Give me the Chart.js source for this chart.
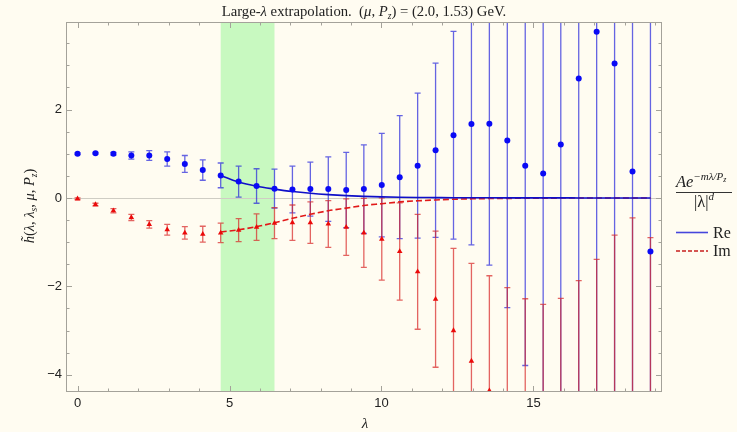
<!DOCTYPE html>
<html>
<head>
<meta charset="utf-8">
<script src="https://cdn.jsdelivr.net/npm/chart.js@4"></script>
<style>
  html, body { margin: 0; padding: 0; background: #fffcf1; }
</style>
</head>
<body>
<canvas id="chart" width="737" height="432"></canvas>
<script>
// lambda grid (z * Pz)
const lambda = [0, 0.59, 1.18, 1.77, 2.36, 2.95, 3.53, 4.12, 4.71, 5.30, 5.89, 6.48, 7.07, 7.66, 8.25, 8.84,
  9.42, 10.01, 10.60, 11.19, 11.78, 12.37, 12.96, 13.55, 14.14, 14.73, 15.32, 15.90, 16.49, 17.08, 17.67, 18.26, 18.85]

// real part + errors
const reVal = [1.0, 1.01, 1.0, 0.96, 0.96, 0.88, 0.77, 0.63, 0.51, 0.37, 0.27, 0.21, 0.19, 0.20, 0.20, 0.18,
  0.20, 0.29, 0.47, 0.73, 1.08, 1.42, 1.67, 1.68, 1.30, 0.73, 0.55, 1.21, 2.70, 3.76, 3.04, 0.60, -1.21]
const reErr = [0.02, 0.02, 0.03, 0.08, 0.11, 0.16, 0.19, 0.23, 0.28, 0.35, 0.39, 0.44, 0.53, 0.61, 0.73, 0.85,
  1.0, 1.17, 1.39, 1.64, 1.97, 2.35, 2.73, 3.2, 3.78, 4.52, 5.3, 6.2, 7.3, 8.6, 10, 12, 14]

// imaginary part + errors
const imVal = [-0.02, -0.15, -0.29, -0.44, -0.60, -0.72, -0.79, -0.82, -0.79, -0.73, -0.66, -0.57, -0.56, -0.56, -0.59, -0.66,
  -0.79, -0.93, -1.21, -1.67, -2.29, -3.0, -3.69, -4.36, -5.1, -5.9, -6.6, -7.3, -7.9, -8.4, -8.8, -9.45, -10.9]
const imErr = [0.02, 0.03, 0.05, 0.07, 0.085, 0.12, 0.14, 0.18, 0.22, 0.26, 0.30, 0.35, 0.40, 0.47, 0.53, 0.64,
  0.78, 0.93, 1.1, 1.3, 1.54, 1.86, 2.21, 2.6, 3.07, 3.62, 4.19, 5.03, 6.03, 7.01, 7.96, 9.0, 10.0]

// fit curves A e^{-m lambda/Pz} / |lambda|^d
const fitLambda = [4.71, 5.30, 5.89, 6.48, 7.07, 7.66, 8.25, 8.84, 9.42, 10.01, 10.60, 11.19, 11.78, 12.37,
  12.96, 13.55, 14.14, 14.73, 15.32, 15.90, 16.49, 17.08, 17.67, 18.26, 18.85]
const fitRe = [0.51, 0.36, 0.265, 0.20, 0.145, 0.105, 0.075, 0.052, 0.036, 0.024, 0.016, 0.011, 0.008, 0.005,
  0.004, 0.003, 0.002, 0.001, 0.001, 0.001, 0, 0, 0, 0, 0]
const fitIm = [-0.77, -0.72, -0.65, -0.56, -0.46, -0.37, -0.29, -0.23, -0.17, -0.13, -0.09, -0.065, -0.045, -0.03,
  -0.02, -0.014, -0.01, -0.007, -0.005, -0.003, -0.002, -0.001, -0.001, 0, 0]

// fit window
const bandStart = 4.71
const bandEnd = 6.48

const xTicks = [0, 5, 10, 15]
const yTicks = [-4, -2, 0, 2]

const BG = "#fffcf1"
const SERIF = "'Liberation Serif', 'DejaVu Serif', serif"
const SANS = "'Liberation Sans', Arial, sans-serif"

function pts(xs, ys) {
  return xs.map((x, i) => ({ x: x, y: ys[i] }))
}

// draws a list of text pieces in a row, returns width
function richText(ctx, parts, x, y, align) {
  let total = 0
  parts.forEach((p) => {
    ctx.font = (p.style || "") + " " + p.size + "px " + SERIF
    total += ctx.measureText(p.t).width
  })
  let cx = align === "center" ? x - total / 2 : x
  ctx.textBaseline = "alphabetic"
  ctx.textAlign = "left"
  parts.forEach((p) => {
    ctx.font = (p.style || "") + " " + p.size + "px " + SERIF
    ctx.fillText(p.t, cx, y + (p.dy || 0))
    cx += ctx.measureText(p.t).width
  })
  return total
}

const decorPlugin = {
  id: "decor",
  beforeDraw(chart) {
    const ctx = chart.ctx
    ctx.save()
    ctx.fillStyle = BG
    ctx.fillRect(0, 0, chart.width, chart.height)
    ctx.restore()
  },
  beforeDatasetsDraw(chart) {
    const { ctx, chartArea: a, scales } = chart
    const x = scales.x, y = scales.y
    ctx.save()
    ctx.beginPath()
    ctx.rect(a.left, a.top, a.right - a.left, a.bottom - a.top)
    ctx.clip()

    // fit window band
    ctx.fillStyle = "rgb(200, 249, 192)"
    const bx0 = x.getPixelForValue(bandStart), bx1 = x.getPixelForValue(bandEnd)
    ctx.fillRect(bx0, a.top, bx1 - bx0, a.bottom - a.top)

    // zero line
    ctx.strokeStyle = "#cfcdc4"
    ctx.lineWidth = 1
    ctx.beginPath()
    ctx.moveTo(a.left, Math.round(y.getPixelForValue(0)) + 0.5)
    ctx.lineTo(a.right, Math.round(y.getPixelForValue(0)) + 0.5)
    ctx.stroke()

    // error bars
    const drawErr = (vals, errs, color) => {
      ctx.strokeStyle = color
      ctx.lineWidth = 1.3
      vals.forEach((v, i) => {
        const px = x.getPixelForValue(lambda[i])
        const hi = y.getPixelForValue(v + errs[i])
        const lo = y.getPixelForValue(v - errs[i])
        ctx.beginPath()
        ctx.moveTo(px, hi)
        ctx.lineTo(px, lo)
        ctx.moveTo(px - 3, hi)
        ctx.lineTo(px + 3, hi)
        ctx.moveTo(px - 3, lo)
        ctx.lineTo(px + 3, lo)
        ctx.stroke()
      })
    }
    drawErr(reVal, reErr, "rgba(35, 35, 220, 0.7)")
    drawErr(imVal, imErr, "rgba(215, 35, 35, 0.7)")
    ctx.restore()
  },
  afterDraw(chart) {
    const { ctx, chartArea: a, scales } = chart
    const x = scales.x, y = scales.y
    ctx.save()

    // frame
    ctx.strokeStyle = "#a4a29a"
    ctx.lineWidth = 1
    ctx.strokeRect(a.left + 0.5, a.top + 0.5, a.right - a.left - 1, a.bottom - a.top - 1)

    // inward ticks on all four sides
    ctx.beginPath()
    for (let v = 0; v <= 19; v += 1) {
      const px = Math.round(x.getPixelForValue(v)) + 0.5
      const len = v % 5 === 0 ? 6 : 3.5
      ctx.moveTo(px, a.bottom); ctx.lineTo(px, a.bottom - len)
      ctx.moveTo(px, a.top); ctx.lineTo(px, a.top + len)
    }
    for (let v = -4; v <= 3.5; v += 0.5) {
      const py = Math.round(y.getPixelForValue(v)) + 0.5
      const len = v % 2 === 0 ? 6 : 3.5
      ctx.moveTo(a.left, py); ctx.lineTo(a.left + len, py)
      ctx.moveTo(a.right, py); ctx.lineTo(a.right - len, py)
    }
    ctx.stroke()

    ctx.fillStyle = "#222"
    // title
    richText(ctx, [
      { t: "Large-", size: 14.7 },
      { t: "λ", size: 14.7, style: "italic" },
      { t: " extrapolation.  (", size: 14.7 },
      { t: "μ", size: 14.7, style: "italic" },
      { t: ", ", size: 14.7 },
      { t: "P", size: 14.7, style: "italic" },
      { t: "z", size: 9.5, style: "italic", dy: 3 },
      { t: ") = (2.0, 1.53) GeV.", size: 14.7 },
    ], (a.left + a.right) / 2, 16, "center")

    // x axis title
    richText(ctx, [{ t: "λ", size: 15, style: "italic" }], (a.left + a.right) / 2 + 1, 428, "center")

    // y axis title
    ctx.save()
    ctx.translate(34, 206)
    ctx.rotate(-Math.PI / 2)
    richText(ctx, [
      { t: "h\u0303", size: 14.5, style: "italic" },
      { t: "(", size: 14.5 },
      { t: "λ", size: 14.5, style: "italic" },
      { t: ", ", size: 14.5 },
      { t: "λ", size: 14.5, style: "italic" },
      { t: "s", size: 9.5, style: "italic", dy: 3 },
      { t: ", ", size: 14.5 },
      { t: "μ", size: 14.5, style: "italic" },
      { t: ", ", size: 14.5 },
      { t: "P", size: 14.5, style: "italic" },
      { t: "z", size: 9.5, style: "italic", dy: 3 },
      { t: ")", size: 14.5 },
    ], 0, 0, "center")
    ctx.restore()

    // legend
    const lx = 676
    richText(ctx, [
      { t: "Ae", size: 16.5, style: "italic" },
      { t: "−mλ/P", size: 11, style: "italic", dy: -7 },
      { t: "z", size: 8, style: "italic", dy: -5 },
    ], lx, 187, "left")
    ctx.strokeStyle = "#333"
    ctx.lineWidth = 1
    ctx.beginPath()
    ctx.moveTo(lx, 192.5)
    ctx.lineTo(732, 192.5)
    ctx.stroke()
    richText(ctx, [
      { t: "|λ|", size: 16.5, style: "" },
      { t: "d", size: 11, style: "italic", dy: -7 },
    ], 704, 207, "center")

    ctx.lineWidth = 1.6
    ctx.strokeStyle = "rgb(70, 70, 220)"
    ctx.beginPath()
    ctx.moveTo(lx, 232.5); ctx.lineTo(708, 232.5)
    ctx.stroke()
    ctx.strokeStyle = "rgb(200, 30, 30)"
    ctx.setLineDash([4, 2])
    ctx.beginPath()
    ctx.moveTo(lx, 251); ctx.lineTo(708, 251)
    ctx.stroke()
    ctx.setLineDash([])
    richText(ctx, [{ t: "Re", size: 16 }], 713, 237.5, "left")
    richText(ctx, [{ t: "Im", size: 16 }], 713, 256, "left")
    ctx.restore()
  },
}

new Chart(document.getElementById("chart"), {
  type: "scatter",
  data: {
    datasets: [
      {
        label: "Re",
        data: pts(lambda, reVal),
        pointStyle: "circle",
        pointRadius: 3,
        backgroundColor: "rgb(10, 10, 245)",
        borderWidth: 0,
      },
      {
        label: "Im",
        data: pts(lambda, imVal),
        pointStyle: "triangle",
        pointRadius: 3.2,
        backgroundColor: "rgb(235, 10, 10)",
        borderWidth: 0,
      },
      {
        label: "fit Re",
        data: pts(fitLambda, fitRe),
        showLine: true,
        pointRadius: 0,
        borderColor: "rgb(15, 15, 200)",
        borderWidth: 1.6,
        cubicInterpolationMode: "monotone",
      },
      {
        label: "fit Im",
        data: pts(fitLambda, fitIm),
        showLine: true,
        pointRadius: 0,
        borderColor: "rgb(225, 25, 25)",
        borderWidth: 1.6,
        borderDash: [6, 3],
        cubicInterpolationMode: "monotone",
      },
    ],
  },
  options: {
    responsive: false,
    animation: false,
    layout: { padding: { top: 22, right: 75, left: 0, bottom: 0 } },
    plugins: {
      legend: { display: false },
      tooltip: { enabled: false },
    },
    scales: {
      x: {
        type: "linear",
        min: -0.38,
        max: 19.23,
        grid: { display: false, drawTicks: false, tickLength: 0 },
        border: { display: false },
        afterBuildTicks: (s) => { s.ticks = xTicks.map((v) => ({ value: v })) },
        ticks: { font: { family: SANS, size: 13 }, color: "#222", padding: 4, maxRotation: 0 },
        afterFit: (s) => { s.height = 40 },
      },
      y: {
        type: "linear",
        min: -4.39,
        max: 3.98,
        grid: { display: false, drawTicks: false, tickLength: 0 },
        border: { display: false },
        afterBuildTicks: (s) => { s.ticks = yTicks.map((v) => ({ value: v })) },
        ticks: {
          font: { family: SANS, size: 13 },
          color: "#222",
          padding: 4,
          callback: (v) => String(v).replace("-", "\u2212"),
        },
        afterFit: (s) => { s.width = 66 },
      },
    },
  },
  plugins: [decorPlugin],
})
</script>
</body>
</html>
